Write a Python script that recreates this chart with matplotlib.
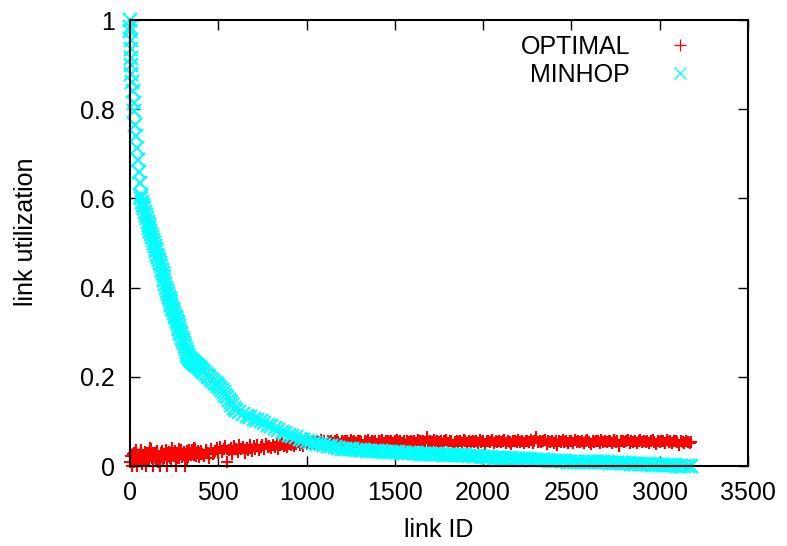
import numpy as np
import matplotlib
matplotlib.use('Agg')
import matplotlib.pyplot as plt
from matplotlib.ticker import FormatStrFormatter

plt.rcParams['font.family'] = ['Liberation Sans', 'DejaVu Sans']
plt.rcParams['font.size'] = 18

minhop_id = (list(range(0, 8)) + list(range(10, 60, 5)) + list(range(60, 401, 5))
             + list(range(410, 600, 10)) + list(range(600, 3181, 20)))
minhop_pm = [
    1000, 985, 975, 955, 935, 915, 900, 880,
    860, 840, 815, 795, 765, 740, 712, 686, 660, 635,
    608, 600, 592, 585, 578, 570, 563, 555, 547, 541,
    534, 527, 520, 513, 506, 500, 494, 487, 481, 474,
    468, 461, 455, 448, 440, 432, 425, 416, 408, 400,
    392, 386, 380, 374, 368, 361, 355, 349, 343, 337,
    331, 325, 320, 313, 307, 301, 295, 288, 282, 275,
    268, 262, 256, 251, 247, 243, 240, 238, 236, 234,
    232, 230, 229, 227, 226, 224, 222, 220, 218,
    214, 210, 206, 202, 199, 195, 191, 187, 183, 179,
    175, 170, 165, 160, 155, 149, 143, 137, 131,
    126, 120, 116, 113, 109, 106, 103, 100, 96, 93,
    89, 85, 81, 77, 74, 70, 67, 64, 61, 58,
    56, 54, 52, 50, 49, 47, 45, 44, 42, 41,
    39, 38, 37, 37, 36, 35, 35, 34, 34, 33,
    33, 33, 32, 32, 31, 31, 31, 30, 30, 29,
    29, 29, 28, 28, 27, 27, 27, 26, 26, 25,
    25, 25, 25, 24, 24, 24, 23, 23, 22, 22,
    21, 20, 20, 19, 19, 18, 18, 17, 17, 16,
    16, 16, 15, 15, 14, 14, 14, 13, 13, 12,
    12, 12, 11, 11, 10, 10, 10, 10, 9, 9,
    9, 9, 9, 8, 8, 8, 7, 7, 7, 6,
    6, 6, 5, 5, 4, 4, 4, 4, 3, 3,
    3, 3, 2, 2, 2, 1, 1, 1, 0, 0,
]

optimal_id = list(range(0, 401, 5)) + list(range(410, 3181, 10))
optimal_pm = [
    10, 22, 0, 28, 30, 8, 15, 35, 0, 18,
    25, 12, 35, 28, 5, 20, 20, 32, 0, 15,
    30, 24, 12, 40, 38, 18, 0, 26, 22, 14,
    28, 33, 8, 20, 0, 30, 34, 16, 18, 27,
    26, 36, 0, 22, 32, 19, 14, 29, 40, 24,
    22, 34, 0, 17, 30, 38, 18, 26, 36, 21,
    24, 32, 0, 28, 33, 15, 20, 36, 28, 24,
    35, 29, 25, 40, 38, 22, 30, 34, 20, 27,
    34,
    28, 22, 36, 30, 18, 38, 26, 33, 40, 29,
    42, 31, 38, 45, 10, 35, 41, 28, 44, 37,
    32, 46, 39, 43, 30, 41, 36, 47, 34, 44,
    39, 48, 35, 43, 46, 38, 50, 42, 45, 40,
    47, 43, 49, 38, 46, 51, 44, 48, 42, 50,
    46, 52, 44, 49, 53, 47, 51, 45, 54, 50,
    55, 52, 57, 53, 50, 56, 54, 58, 51, 55, 47, 56,
    53, 57, 52, 55, 58, 54, 50, 56, 53, 57, 55, 52,
    58, 54, 56, 51, 55, 57, 53, 45, 56, 54, 58, 52,
    55, 53, 57, 50, 56, 54, 58, 52, 55, 57, 53, 56,
    51, 55, 58, 54, 57, 52, 56, 48, 55, 53, 57, 54,
    56, 52, 58, 55, 53, 57, 51, 66, 54, 56, 52, 58,
    54, 57, 53, 55, 50, 56, 58, 52, 55, 57, 46, 54,
    57, 53, 56, 52, 58, 55, 51, 56, 54, 57, 53, 55,
    52, 58, 54, 56, 49, 57, 55, 53, 58, 51, 56, 54,
    57, 53, 55, 58, 52, 56, 54, 50, 57, 55, 53, 58,
    54, 56, 51, 57, 55, 53, 58, 52, 56, 64, 54, 57,
    53, 55, 58, 50, 56, 54, 57, 52, 55, 47, 56, 53,
    58, 54, 56, 52, 57, 55, 51, 58, 53, 56, 54, 57,
    52, 55, 58, 54, 49, 56, 53, 57, 55, 51, 58, 54,
    56, 53, 57, 55, 52, 58, 54, 56, 45, 55, 57, 53,
    55, 58, 52, 56, 54, 57, 51, 55, 58, 53, 56, 54,
    57, 52, 55, 58, 54, 50, 56, 53, 57, 55, 52, 58,
    54, 56, 51, 55, 57, 53, 48, 56, 54, 52, 55, 53,
    51, 54,
]

minhop_util = np.array(minhop_pm) / 1000
optimal_util = np.array(optimal_pm) / 1000

fig = plt.figure(figsize=(7.87, 5.46), dpi=100)
ax = fig.add_axes([130 / 787, 1 - 466 / 546, 618 / 787, 446 / 546])

ax.plot(optimal_id, optimal_util, '+', color='#ff0000', ms=8.6, mew=1.5,
        label='OPTIMAL', clip_on=False)
ax.plot(minhop_id, minhop_util, 'x', color='#00ffff', ms=9.5, mew=1.6,
        label='MINHOP', clip_on=False)

ax.set_xlim(0, 3500)
ax.set_ylim(0, 1)
ax.set_xticks(np.arange(0, 3501, 500))
ax.set_yticks(np.arange(0, 1.01, 0.2))
ax.yaxis.set_major_formatter(FormatStrFormatter('%g'))
ax.tick_params(direction='in', length=7, width=1, top=True, right=True)
ax.tick_params(axis='y', pad=11)
ax.tick_params(axis='x', pad=11)
for s in ax.spines.values():
    s.set_linewidth(1.5)

ax.set_xlabel('link ID', labelpad=9)
ax.set_ylabel('link utilization')
ax.yaxis.set_label_coords(-0.149, 0.525)

leg = ax.legend(loc='upper right', bbox_to_anchor=(715 / 787, 1 - 25 / 546),
                bbox_transform=fig.transFigure, frameon=False, markerfirst=False,
                handletextpad=1.0, labelspacing=0.15, borderaxespad=0)
for h in leg.legend_handles:
    h.set_markeredgewidth(0.9)
    h.set_markersize(8.6)

fig.savefig('out.png', dpi=100)
